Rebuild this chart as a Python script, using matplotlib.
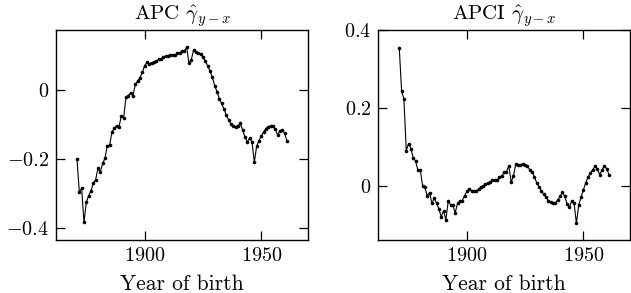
import matplotlib
matplotlib.use("Agg")
from matplotlib import pyplot as plt

plt.rcParams['font.family'] = 'serif'
plt.rcParams['font.serif'] = ['cmr10', 'DejaVu Serif']
plt.rcParams['mathtext.fontset'] = 'cm'
plt.rcParams['axes.formatter.use_mathtext'] = True

years = list(range(1871, 1962))

apc = [-0.200, -0.295, -0.285, -0.384, -0.326, -0.306, -0.293, -0.270, -0.260, -0.227,
       -0.238, -0.213, -0.198, -0.161, -0.160, -0.121, -0.111, -0.103, -0.108, -0.075,
       -0.080, -0.021, -0.016, -0.008, -0.016, 0.016, 0.026, 0.036, 0.051, 0.071,
       0.080, 0.076, 0.079, 0.081, 0.084, 0.089, 0.091, 0.095, 0.098, 0.099,
       0.101, 0.102, 0.101, 0.106, 0.108, 0.112, 0.113, 0.124, 0.078, 0.088,
       0.117, 0.110, 0.107, 0.104, 0.095, 0.084, 0.070, 0.055, 0.037, 0.013,
       -0.005, -0.025, -0.039, -0.055, -0.073, -0.087, -0.099, -0.104, -0.106, -0.103,
       -0.097, -0.116, -0.137, -0.151, -0.139, -0.150, -0.209, -0.163, -0.147, -0.133,
       -0.121, -0.112, -0.106, -0.104, -0.103, -0.114, -0.130, -0.118, -0.115, -0.126,
       -0.148]

apci = [0.355, 0.243, 0.223, 0.090, 0.108, 0.095, 0.071, 0.063, 0.039, 0.041,
        0.000, -0.004, -0.027, -0.018, -0.046, -0.032, -0.045, -0.060, -0.080, -0.065,
        -0.088, -0.041, -0.049, -0.051, -0.070, -0.046, -0.040, -0.039, -0.026, -0.015,
        -0.008, -0.013, -0.014, -0.013, -0.010, -0.004, -0.002, 0.003, 0.007, 0.009,
        0.013, 0.013, 0.013, 0.022, 0.025, 0.034, 0.035, 0.051, 0.009, 0.024,
        0.056, 0.052, 0.053, 0.056, 0.053, 0.049, 0.041, 0.034, 0.022, 0.007,
        -0.003, -0.013, -0.023, -0.030, -0.039, -0.043, -0.044, -0.044, -0.037, -0.028,
        -0.017, -0.028, -0.047, -0.056, -0.039, -0.045, -0.097, -0.050, -0.030, -0.011,
        0.007, 0.022, 0.032, 0.041, 0.049, 0.043, 0.028, 0.040, 0.051, 0.043,
        0.028]

x_ticks = [1900, 1950]
apc_ticks = [-0.4, -0.2, 0]
apci_ticks = [0, 0.2, 0.4]


def fmt(v):
    if v == 0:
        return "$0$"
    return "$%.1f$" % v


fig = plt.figure(figsize=(6.31, 2.93), dpi=100)
ax1 = fig.add_axes([0.0887, 0.1809, 0.3994, 0.7167])
ax2 = fig.add_axes([0.5995, 0.1809, 0.3989, 0.7167])

panels = [(ax1, apc, apc_ticks, (-0.435, 0.174), r"APC $\hat{\gamma}_{y-x}$"),
          (ax2, apci, apci_ticks, (-0.14, 0.4), r"APCI $\hat{\gamma}_{y-x}$")]

for ax, vals, yt, ylim, title in panels:
    ax.plot(years, vals, color='black', lw=0.8, marker='o', ms=2.6,
            markerfacecolor='black', markeredgewidth=0)
    ax.set_xlim(1862, 1970)
    ax.set_ylim(*ylim)
    ax.set_xticks(x_ticks)
    ax.set_xticklabels(["$%d$" % t for t in x_ticks])
    ax.set_yticks(yt)
    ax.set_yticklabels([fmt(v) for v in yt])
    ax.tick_params(direction='in', length=6.5, width=0.9, top=True, right=True,
                   labelsize=14.5, pad=5)
    for s in ax.spines.values():
        s.set_linewidth(1.0)
    ax.set_title(title, fontsize=15, pad=7)
    ax.set_xlabel("Year of birth", fontsize=15.5, labelpad=7)

fig.savefig("out.png", dpi=100)
